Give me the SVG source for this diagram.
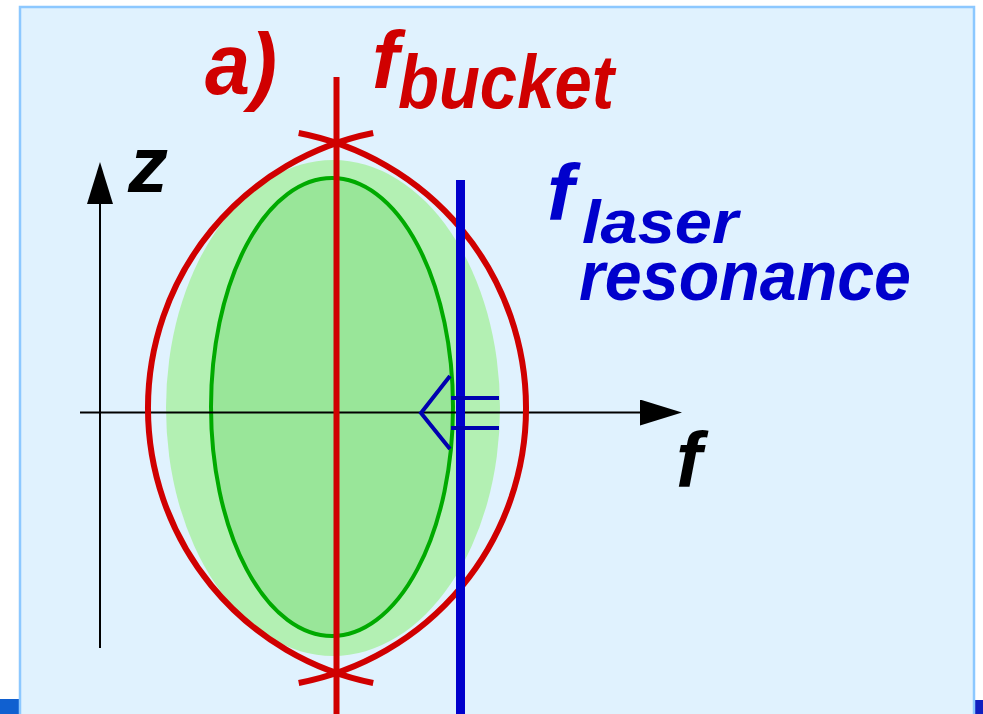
<svg xmlns="http://www.w3.org/2000/svg" width="983" height="714" viewBox="0 0 983 714">
<style>
.t{font-family:"Liberation Sans",Arial,sans-serif;font-weight:bold;font-style:italic}
.red{fill:#d00000}
.blue{fill:#0000cc}
.blk{fill:#000}
</style>
<defs>
<marker id="ah" viewBox="0 0 42 26" refX="0" refY="13" markerWidth="42" markerHeight="26" markerUnits="userSpaceOnUse" orient="auto">
<path d="M0,0 L42,13 L0,26 Z" fill="#000"/>
</marker>
</defs>
<rect x="0" y="0" width="983" height="714" fill="#ffffff"/>
<rect x="0" y="699" width="20" height="15" fill="#1060d0"/>
<rect x="975" y="700" width="8" height="14" fill="#1020c0"/>
<rect x="20" y="7" width="954" height="720" fill="#e0f2fe" stroke="#8cc8ff" stroke-width="2.5"/>
<g id="outer-ellipse"><ellipse cx="333" cy="408" rx="167" ry="248" fill="#b3f0b3"/></g>
<g id="inner-ellipse"><ellipse cx="332" cy="407" rx="121" ry="229" fill="#99e699" stroke="#00aa00" stroke-width="4"/></g>
<g id="axes" fill="none" stroke="#000" stroke-width="2">
<path d="M80,412.5 H640" marker-end="url(#ah)"/>
<path d="M100,648 V204" marker-end="url(#ah)"/>
</g>
<g id="bucket" fill="none" stroke="#d00000" stroke-width="6">
<path d="M336.5,77 V714"/>
<path d="M373.2,133 A280.5,280.5 0 0 0 373.2,683"/>
<path d="M298.7,133 A280,280 0 0 1 298.7,683"/>
</g>
<g id="laser" fill="none">
<path d="M460.5,180 V714" stroke="#0000cc" stroke-width="9"/>
</g>
<g id="connectors" fill="none" stroke="#0000b0" stroke-width="4">
<path d="M450,376 L421,413 L450,449"/>
<path d="M451,398 H499"/>
<path d="M451,428 H499"/>
</g>
<g id="labels">
<text class="t red" x="205" y="94" font-size="88" textLength="72" lengthAdjust="spacingAndGlyphs">a)</text>
<text class="t red" x="372" y="88" font-size="82" textLength="27" lengthAdjust="spacingAndGlyphs">f</text>
<text class="t red" x="398" y="108" font-size="76" textLength="216" lengthAdjust="spacingAndGlyphs">bucket</text>
<text class="t blk" x="128" y="192" font-size="80" textLength="40" lengthAdjust="spacingAndGlyphs">z</text>
<text class="t blk" x="676" y="487" font-size="78" textLength="26" lengthAdjust="spacingAndGlyphs">f</text>
<text class="t blue" x="547" y="220" font-size="80" textLength="27" lengthAdjust="spacingAndGlyphs">f</text>
<text class="t blue" x="582" y="243" font-size="62" textLength="156" lengthAdjust="spacingAndGlyphs">laser</text>
<text class="t blue" x="579" y="300" font-size="71" textLength="332" lengthAdjust="spacingAndGlyphs">resonance</text>
</g>
</svg>
